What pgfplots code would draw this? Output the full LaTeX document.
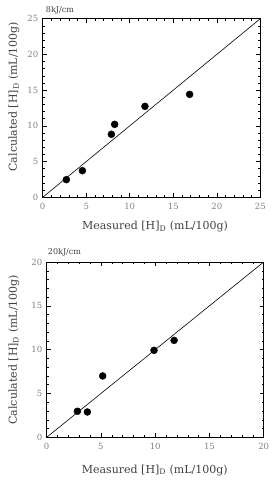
\documentclass[border=0pt]{standalone}
\usepackage{fontspec}
\setmainfont{DejaVu Serif}
\usepackage{pgfplots}
\pgfplotsset{compat=1.18}

\pgfplotsset{
  hdplot/.style={
    scale only axis,
    axis line style={black, line width=0.8pt},
    tick align=inside,
    xtick pos=both, ytick pos=both,
    major tick length=4pt,
    minor tick length=2pt,
    every tick/.style={black, line width=0.5pt},
    minor tick num=4,
    tick label style={font=\fontsize{8.5}{9}\selectfont, text=gray},
    /pgf/number format/assume math mode=true,
    xticklabel style={yshift=-2pt},
    yticklabel style={xshift=-1pt},
    clip=false,
  },
  pts/.style={only marks, mark=*, mark size=3.5pt, mark options={fill=black, draw=black}},
  diag/.style={black, line width=0.6pt, no marks},
}
\tikzset{
  lbl/.style={font=\fontsize{11}{13}\selectfont, text=darkgray, anchor=center},
  ttl/.style={font=\fontsize{8}{9}\selectfont, text=darkgray, anchor=west, inner sep=0pt},
}

\begin{document}
\begin{tikzpicture}
\useasboundingbox (0,0) rectangle (272pt,-486pt);

% 8 kJ/cm heat input
\begin{axis}[hdplot,
  at={(42.7pt,-197.3pt)}, anchor=south west,
  width=217.6pt, height=178.6pt,
  xmin=0, xmax=25, ymin=0, ymax=25,
  xtick={0,5,...,25}, ytick={0,5,...,25},
]
\addplot[diag] coordinates {(0,0) (25,25)};
\addplot[pts] coordinates {
  (2.72,2.47) (4.56,3.73) (7.89,8.82) (8.27,10.21) (11.75,12.73) (16.88,14.41)
};
\node[ttl] at (rel axis cs:0.014,1.049) {8kJ/cm};
\node[lbl] at (rel axis cs:0.516,-0.166) {Measured [H]$_{\mathrm{D}}$ (mL/100g)};
\node[lbl, rotate=90] at (rel axis cs:-0.132,0.564) {Calculated [H]$_{\mathrm{D}}$ (mL/100g)};
\end{axis}

% 20 kJ/cm heat input
\begin{axis}[hdplot,
  at={(46.7pt,-437.3pt)}, anchor=south west,
  width=217pt, height=175.3pt,
  xmin=0, xmax=20, ymin=0, ymax=20,
  xtick={0,5,...,20}, ytick={0,5,...,20},
]
\addplot[diag] coordinates {(0,0) (20,20)};
\addplot[pts] coordinates {
  (2.83,2.97) (3.75,2.89) (5.16,7.00) (9.89,9.92) (11.74,11.06)
};
\node[ttl] at (rel axis cs:0.005,1.053) {20kJ/cm};
\node[lbl] at (rel axis cs:0.498,-0.187) {Measured [H]$_{\mathrm{D}}$ (mL/100g)};
\node[lbl, rotate=90] at (rel axis cs:-0.151,0.5) {Calculated [H]$_{\mathrm{D}}$ (mL/100g)};
\end{axis}
\end{tikzpicture}
\end{document}
